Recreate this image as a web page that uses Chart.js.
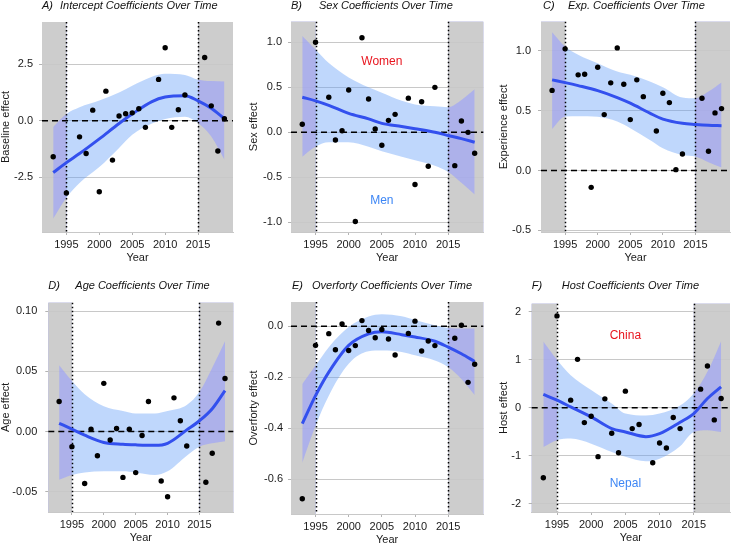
<!DOCTYPE html>
<html>
<head>
<meta charset="utf-8">
<script src="https://cdn.jsdelivr.net/npm/chart.js@4.4.0/dist/chart.umd.min.js"></script>
<style>
  html, body { margin: 0; padding: 0; background: #fff; overflow: hidden; }
  body { width: 734px; height: 544px; position: relative; }
  canvas { position: absolute; }
</style>
</head>
<body>
<canvas id="cA" width="245" height="272" style="left:0;top:0"></canvas>
<canvas id="cB" width="245" height="272" style="left:245px;top:0"></canvas>
<canvas id="cC" width="244" height="272" style="left:490px;top:0"></canvas>
<canvas id="cD" width="245" height="280" style="left:0;top:272px"></canvas>
<canvas id="cE" width="245" height="282" style="left:245px;top:272px"></canvas>
<canvas id="cF" width="244" height="280" style="left:490px;top:272px"></canvas>
<script>
// 観測年（各パネル共通）
const years = [1993, 1995, 1997, 1998, 1999, 2000, 2001, 2002, 2003, 2004, 2005,
  2006, 2007, 2009, 2010, 2011, 2012, 2013, 2016, 2017, 2018, 2019];
// 平滑化曲線・信頼帯の年
const fitYears = [1993, 1995, 1997, 2000, 2003, 2005, 2008, 2010, 2013, 2015, 2017, 2019];
const xTicks = [1995, 2000, 2005, 2010, 2015];
const shadeYears = [1995, 2015];

// A) Intercept
const interceptPoints = [-1.59, -3.19, -0.71, -1.45, 0.47, -3.14, 1.31, -1.74, 0.21, 0.31, 0.35,
  0.53, -0.29, 1.83, 3.23, -0.29, 0.49, 1.14, 2.80, 0.66, -1.34, 0.09];
const interceptFit = [-2.29, -1.85, -1.45, -0.80, -0.12, 0.30, 0.85, 1.05, 1.11, 0.88, 0.55, 0.09];
const interceptUpper = [-0.27, 0.30, 0.60, 0.90, 1.25, 1.55, 1.95, 2.08, 2.03, 1.82, 1.76, 1.74];
const interceptLower = [-4.32, -3.40, -2.75, -2.05, -1.20, -0.62, -0.12, 0.08, 0.18, -0.10, -0.70, -1.72];
const interceptTicks = [-2.5, 0, 2.5];

// B) Sex
const sexPoints = [0.09, 1.0, 0.39, -0.085, 0.018, 0.47, -0.99, 1.05, 0.37, 0.037, -0.144,
  0.133, 0.20, 0.38, -0.58, 0.34, -0.377, 0.50, -0.37, 0.126, 0.0, -0.233];
const sexFit = [0.39, 0.35, 0.30, 0.21, 0.15, 0.10, 0.065, 0.04, 0.0, -0.035, -0.07, -0.11];
const sexUpper = [1.07, 0.92, 0.77, 0.61, 0.50, 0.44, 0.35, 0.31, 0.29, 0.28, 0.36, 0.48];
const sexLower = [-0.27, -0.16, -0.11, -0.11, -0.16, -0.21, -0.27, -0.31, -0.37, -0.44, -0.56, -0.69];
const sexTicks = [-1, -0.5, 0, 0.5, 1];

// C) Experience
const expPoints = [0.67, 1.017, 0.80, 0.805, -0.14, 0.864, 0.468, 0.733, 1.025, 0.721, 0.426,
  0.758, 0.618, 0.331, 0.646, 0.568, 0.008, 0.139, 0.604, 0.162, 0.482, 0.518];
const expFit = [0.758, 0.735, 0.71, 0.668, 0.61, 0.563, 0.48, 0.43, 0.395, 0.385, 0.378, 0.375];
const expUpper = [1.156, 1.036, 0.967, 0.897, 0.827, 0.80, 0.744, 0.696, 0.61, 0.604, 0.66, 0.735];
const expLower = [0.348, 0.451, 0.455, 0.45, 0.41, 0.354, 0.256, 0.187, 0.131, 0.117, 0.07, 0.025];
const expTicks = [-0.5, 0, 0.5, 1];

// D) Age
const agePoints = [0.025, -0.0125, -0.043, 0.002, -0.020, 0.040, -0.007, 0.0025, -0.038, 0.002, -0.034,
  -0.0033, 0.025, -0.041, -0.054, 0.028, 0.009, -0.012, -0.042, -0.018, 0.090, 0.044];
const ageFit = [0.0069, 0.002, -0.003, -0.009, -0.0105, -0.011, -0.0114, -0.0097, 0.0014, 0.009, 0.019, 0.034];
const ageUpper = [0.055, 0.042, 0.031, 0.021, 0.017, 0.015, 0.015, 0.017, 0.022, 0.033, 0.053, 0.075];
const ageLower = [-0.040, -0.036, -0.034, -0.033, -0.033, -0.034, -0.036, -0.033, -0.02, -0.0125, -0.0097, -0.008];
const ageTicks = [-0.05, 0, 0.05, 0.10];

// E) Overforty
const overPoints = [-0.676, -0.075, -0.029, -0.092, 0.009, -0.095, -0.076, 0.022, -0.017, -0.045, -0.013,
  -0.05, -0.113, -0.028, 0.02, -0.097, -0.058, -0.076, -0.047, 0.004, -0.22, -0.149];
const overFit = [-0.382, -0.272, -0.18, -0.075, -0.03, -0.022, -0.033, -0.042, -0.059, -0.082, -0.108, -0.138];
const overUpper = [-0.226, -0.154, -0.082, -0.003, 0.038, 0.047, 0.039, 0.024, 0.004, -0.007, -0.009, -0.009];
const overLower = [-0.535, -0.39, -0.272, -0.147, -0.098, -0.095, -0.101, -0.114, -0.134, -0.16, -0.207, -0.27];
const overTicks = [-0.6, -0.4, -0.2, 0];

// F) Host
const hostPoints = [-1.456, 1.916, 0.16, 1.01, -0.307, -0.174, -1.017, 0.188, -0.53, -0.934, 0.348,
  -0.432, -0.348, -1.143, -0.732, -0.836, -0.202, -0.432, 0.39, 0.871, -0.251, 0.195];
const hostFit = [0.279, 0.16, 0.02, -0.188, -0.432, -0.502, -0.6, -0.537, -0.3, -0.118, 0.195, 0.439];
const hostUpper = [1.38, 1.0, 0.68, 0.37, 0.09, -0.12, -0.16, -0.12, 0.05, 0.30, 0.75, 1.39];
const hostLower = [-0.815, -0.676, -0.641, -0.746, -0.92, -1.02, -1.115, -1.06, -0.8, -0.502, -0.467, -0.502];
const hostTicks = [-2, -1, 0, 1, 2];

// 注記ラベル
const sexNotes = [
  { text: "Women", x: 2005, y: 0.79, color: "#e8161f" },
  { text: "Men", x: 2005, y: -0.76, color: "#3d86f5" },
];
const hostNotes = [
  { text: "China", x: 2005, y: 1.5, color: "#e8161f" },
  { text: "Nepal", x: 2005, y: -1.59, color: "#3d86f5" },
];

const FONT = "'Liberation Sans', Arial, sans-serif";
Chart.defaults.font.family = FONT;
Chart.defaults.color = "#1a1a1a";

const lineBlue = "#3350ee";
const bandBlue = "rgba(95, 155, 248, 0.4)";
const shadeGrey = "#cdcdcd";

function toXY(xs, ys) {
  return xs.map((x, i) => ({ x: x, y: ys[i] }));
}

function makePanel(p) {
  const decor = {
    id: "decor",
    // 灰色の期間外エリア
    beforeDraw(chart) {
      const { ctx, chartArea: a } = chart;
      const xs = chart.scales.x;
      const x1 = xs.getPixelForValue(shadeYears[0]);
      const x2 = xs.getPixelForValue(shadeYears[1]);
      ctx.save();
      ctx.fillStyle = shadeGrey;
      ctx.fillRect(a.left, a.top, x1 - a.left, a.bottom - a.top);
      ctx.fillRect(x2, a.top, a.right - x2, a.bottom - a.top);
      ctx.restore();
    },
    // 灰色部分の帯を紫寄りに、点線・破線
    beforeDatasetsDraw(chart) {
      const { ctx, chartArea: a } = chart;
      const xs = chart.scales.x;
      const ys = chart.scales.y;
      const x1 = xs.getPixelForValue(shadeYears[0]);
      const x2 = xs.getPixelForValue(shadeYears[1]);
      ctx.save();
      ctx.globalCompositeOperation = "hue";
      ctx.fillStyle = "rgb(150, 155, 235)";
      ctx.fillRect(a.left, a.top, x1 - a.left, a.bottom - a.top);
      ctx.fillRect(x2, a.top, a.right - x2, a.bottom - a.top);
      ctx.restore();

      ctx.save();
      ctx.strokeStyle = "#000";
      ctx.lineWidth = 1.5;
      ctx.setLineDash([1.5, 2.5]);
      shadeYears.forEach((yr) => {
        const x = Math.round(xs.getPixelForValue(yr)) + 0.5;
        ctx.beginPath();
        ctx.moveTo(x, a.top);
        ctx.lineTo(x, a.bottom);
        ctx.stroke();
      });
      ctx.setLineDash([6, 4]);
      const y0 = ys.getPixelForValue(0);
      ctx.beginPath();
      ctx.moveTo(a.left, y0);
      ctx.lineTo(a.right, y0);
      ctx.stroke();
      ctx.restore();
    },
    // タイトルと注記
    afterDraw(chart) {
      const { ctx, chartArea: a } = chart;
      ctx.save();
      ctx.fillStyle = "#111";
      ctx.textBaseline = "middle";
      ctx.font = "italic 11px " + FONT;
      ctx.fillText(p.letter, a.left + p.letterDx, p.titleY);
      ctx.fillText(p.title, a.left + p.titleDx, p.titleY);
      ctx.font = "12px " + FONT;
      ctx.textAlign = "center";
      (p.notes || []).forEach((n) => {
        ctx.fillStyle = n.color;
        ctx.fillText(n.text, chart.scales.x.getPixelForValue(n.x), chart.scales.y.getPixelForValue(n.y));
      });
      ctx.restore();
    },
  };

  return new Chart(document.getElementById(p.canvas), {
    type: "line",
    plugins: [decor],
    data: {
      datasets: [
        {
          data: toXY(years, p.points),
          showLine: false,
          pointRadius: 2.7,
          pointBorderWidth: 0,
          pointBackgroundColor: "#000",
        },
        {
          data: toXY(fitYears, p.fit),
          borderColor: lineBlue,
          borderWidth: 3,
          pointRadius: 0,
          cubicInterpolationMode: "monotone",
          fill: false,
        },
        {
          data: toXY(fitYears, p.upper),
          borderColor: "transparent",
          borderWidth: 0,
          pointRadius: 0,
          cubicInterpolationMode: "monotone",
          fill: "+1",
          backgroundColor: bandBlue,
        },
        {
          data: toXY(fitYears, p.lower),
          borderColor: "transparent",
          borderWidth: 0,
          pointRadius: 0,
          cubicInterpolationMode: "monotone",
          fill: false,
        },
      ],
    },
    options: {
      responsive: false,
      animation: false,
      events: [],
      layout: { padding: { top: p.padT, right: p.padR, left: 0, bottom: 0 } },
      plugins: {
        legend: { display: false },
        tooltip: { enabled: false },
        filler: { drawTime: "beforeDatasetsDraw" },
      },
      scales: {
        x: {
          type: "linear",
          min: 1991.3,
          max: 2020.3,
          afterBuildTicks: (s) => {
            s.ticks = xTicks.map((v) => ({ value: v }));
          },
          afterFit: (s) => {
            s.height = 40;
          },
          grid: { drawOnChartArea: false, drawTicks: true, tickLength: 3, tickColor: "#b3b3b3" },
          border: { display: true, color: "#c8c8c8" },
          ticks: {
            autoSkip: false,
            maxRotation: 0,
            padding: 3,
            font: { size: 11 },
            callback: (v) => String(v),
          },
          title: {
            display: true,
            text: "Year",
            font: { size: 11, lineHeight: 1 },
            padding: { top: 0, bottom: 8.5 },
          },
        },
        y: {
          min: p.yMin,
          max: p.yMax,
          afterBuildTicks: (s) => {
            s.ticks = p.ticks.map((v) => ({ value: v }));
          },
          afterFit: (s) => {
            s.width = p.yW;
          },
          grid: { color: "#c8c8c8", lineWidth: 1, drawTicks: true, tickLength: 3, tickColor: "#b3b3b3" },
          border: { display: false },
          ticks: {
            padding: p.tickPad,
            font: { size: 11 },
            callback: (v) => v.toFixed(p.dec),
          },
          title: {
            display: true,
            text: p.yTitle,
            font: { size: 11, lineHeight: 1 },
            padding: { top: p.yTitlePad, bottom: 0 },
          },
        },
      },
    },
  });
}

makePanel({
  canvas: "cA", letter: "A)", title: "Intercept Coefficients Over Time", letterDx: 0, titleDx: 18, titleY: 5.5,
  points: interceptPoints, fit: interceptFit, upper: interceptUpper, lower: interceptLower, ticks: interceptTicks,
  yMin: -4.92, yMax: 4.37, dec: 1, yTitle: "Baseline effect", yTitlePad: 0, tickPad: 6,
  yW: 42, padT: 22, padR: 12,
});
makePanel({
  canvas: "cB", letter: "B)", title: "Sex Coefficients Over Time", letterDx: 0, titleDx: 28, titleY: 5.5,
  points: sexPoints, fit: sexFit, upper: sexUpper, lower: sexLower, ticks: sexTicks,
  yMin: -1.107, yMax: 1.229, dec: 1, yTitle: "Sex effect", yTitlePad: 3.5, tickPad: 6,
  yW: 46, padT: 21.7, padR: 6.7, notes: sexNotes,
});
makePanel({
  canvas: "cC", letter: "C)", title: "Exp. Coefficients Over Time", letterDx: 2, titleDx: 27, titleY: 5.5,
  points: expPoints, fit: expFit, upper: expUpper, lower: expLower, ticks: expTicks,
  yMin: -0.513, yMax: 1.244, dec: 1, yTitle: "Experience effect", yTitlePad: 8.5, tickPad: 7,
  yW: 51, padT: 21.7, padR: 1.3,
});
makePanel({
  canvas: "cD", letter: "D)", title: "Age Coefficients Over Time", letterDx: 0, titleDx: 27, titleY: 14,
  points: agePoints, fit: ageFit, upper: ageUpper, lower: ageLower, ticks: ageTicks,
  yMin: -0.0667, yMax: 0.1069, dec: 2, yTitle: "Age effect", yTitlePad: 0, tickPad: 8,
  yW: 48.3, padT: 30.7, padR: 11.7,
});
makePanel({
  canvas: "cE", letter: "E)", title: "Overforty Coefficients Over Time", letterDx: 1, titleDx: 21, titleY: 14,
  points: overPoints, fit: overFit, upper: overUpper, lower: overLower, ticks: overTicks,
  yMin: -0.736, yMax: 0.095, dec: 1, yTitle: "Overforty effect", yTitlePad: 3.5, tickPad: 5,
  yW: 46, padT: 30, padR: 6.7,
});
makePanel({
  canvas: "cF", letter: "F)", title: "Host Coefficients Over Time", letterDx: 0, titleDx: 30, titleY: 14,
  points: hostPoints, fit: hostFit, upper: hostUpper, lower: hostLower, ticks: hostTicks,
  yMin: -2.17, yMax: 2.17, dec: 0, yTitle: "Host effect", yTitlePad: 8.5, tickPad: 7.7,
  yW: 41.7, padT: 31.7, padR: 1.3, notes: hostNotes,
});
</script>
</body>
</html>
